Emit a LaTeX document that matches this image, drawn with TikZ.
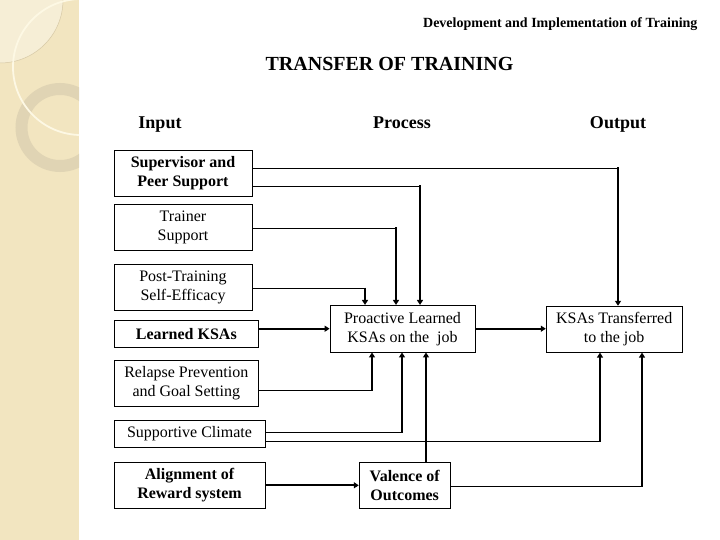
\documentclass[tikz,border=0pt]{standalone}
\usepackage{fontspec}
\setmainfont{Liberation Serif}
\usetikzlibrary{arrows.meta}
\definecolor{strip}{RGB}{242,229,192}
\definecolor{stripdisc}{RGB}{246,238,214}
\definecolor{stripedge}{RGB}{214,200,165}
\definecolor{ringc}{RGB}{222,210,178}
\definecolor{arcc}{RGB}{253,248,228}
\tikzset{
  box/.style={draw, line width=0.8pt, inner sep=0pt, align=center,
    font=\fontsize{16}{19}\selectfont},
  bbox/.style={box, font=\bfseries\fontsize{16}{19}\selectfont},
  hl/.style={line width=0.9pt},
  vl/.style={line width=1.8pt},
  arr/.style={-{Triangle[length=5pt,width=6pt]}},
  heading/.style={anchor=base, font=\bfseries\fontsize{18}{21}\selectfont},
}
\begin{document}
\begin{tikzpicture}[x=1pt,y=-1pt]
\useasboundingbox (0,0) rectangle (720,540);
\fill[white] (0,0) rectangle (720,540);
% decorative strip
\fill[strip] (0,0) rectangle (79,540);
\begin{scope}
  \clip (0,0) rectangle (79,540);
  \fill[stripdisc] (0,0) circle (63);
  \draw[stripedge, line width=0.5pt] (0,0) circle (63);
  \draw[ringc, line width=12pt, opacity=0.85] (60,127.5) circle (38.5);
  \draw[arcc, line width=1.8pt] (81,67) circle (68);
\end{scope}
% titles
\node[anchor=base east, font=\bfseries\fontsize{14}{17}\selectfont] (hdr) at (701,27.5) {Development and Implementation of Training};
\node[anchor=base, font=\bfseries\fontsize{20}{24}\selectfont] (ttl) at (389.5,71) {TRANSFER OF TRAINING};
\node[heading] (hin) at (160,129) {Input};
\node[heading] (hpr) at (402,128.5) {Process};
\node[heading] (hout) at (618,128.5) {Output};
% input boxes
\node[bbox, minimum width=138, minimum height=46] (sup) at (183,173.3) {Supervisor and\\Peer Support};
\node[box, minimum width=138, minimum height=46] (tra) at (183,227.2) {Trainer\\Support};
\node[box, minimum width=138, minimum height=46] (post) at (183,287.3) {Post-Training\\Self-Efficacy};
\node[bbox, minimum width=144, minimum height=27] (lrn) at (186.3,333.8) {Learned KSAs};
\node[box, minimum width=144, minimum height=46] (rel) at (186.3,383.2) {Relapse Prevention\\and Goal Setting};
\node[box, minimum width=151, minimum height=26.7] (clim) at (189.5,433.7) {Supportive Climate};
\node[bbox, minimum width=151, minimum height=46] (aln) at (189.5,485.3) {Alignment of\\Reward system};
% process / output boxes
\node[box, minimum width=145, minimum height=46.7] (pro) at (402.5,328.7) {Proactive Learned\\KSAs on the\ \ job};
\node[box, minimum width=136, minimum height=46] (trn) at (614.2,329.2) {KSAs Transferred\\to the job};
\node[bbox, minimum width=91, minimum height=46] (val) at (404.7,485.3) {Valence of\\Outcomes};
% corners
\coordinate (c1) at (618,168);
\coordinate (c2) at (420,186);
\coordinate (c3) at (396,228);
\coordinate (c4) at (365,288);
\coordinate (c5) at (372,390);
\coordinate (c6) at (402,432);
\coordinate (c7) at (600,441);
\coordinate (c8) at (426,486);
\coordinate (c9) at (642,486);
% downward connectors
\draw[hl] (sup.east |- c1) -- (c1);
\draw[vl,arr] ([yshift=0.5pt]c1) -- (trn.north -| c1);
\draw[hl] (sup.east |- c2) -- (c2);
\draw[vl,arr] ([yshift=0.5pt]c2) -- (pro.north -| c2);
\draw[hl] (tra.east |- c3) -- (c3);
\draw[vl,arr] ([yshift=0.5pt]c3) -- (pro.north -| c3);
\draw[hl] (post.east |- c4) -- (c4);
\draw[vl,arr] ([yshift=0.5pt]c4) -- (pro.north -| c4);
% straight connectors
\draw[vl,arr] (lrn.east |- pro.west) -- (pro.west);
\draw[vl,arr] (pro.east) -- (trn.west |- pro.east);
\draw[vl,arr] (aln.east) -- (val.west);
% upward connectors
\draw[hl] (rel.east |- c5) -- (c5);
\draw[vl,arr] ([yshift=-0.5pt]c5) -- (pro.south -| c5);
\draw[hl] (clim.east |- c6) -- (c6);
\draw[vl,arr] ([yshift=-0.5pt]c6) -- (pro.south -| c6);
\draw[hl] (clim.east |- c7) -- (c7);
\draw[vl,arr] ([yshift=-0.5pt]c7) -- (trn.south -| c7);
\draw[vl,arr] (val.north -| c8) -- (pro.south -| c8);
\draw[hl] (val.east |- c9) -- (c9);
\draw[vl,arr] ([yshift=-0.5pt]c9) -- (trn.south -| c9);
\end{tikzpicture}
\end{document}
